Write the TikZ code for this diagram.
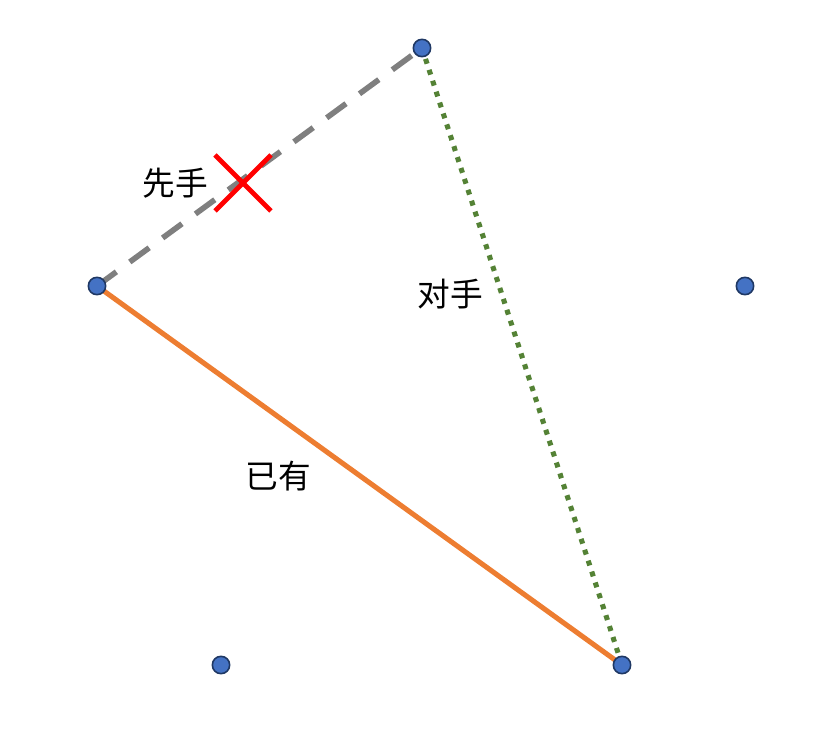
\documentclass[tikz,border=0pt]{standalone}
\usepackage{fontspec}
\newfontfamily\cjk{Noto Sans CJK SC}
\usetikzlibrary{positioning}
\definecolor{dotblue}{HTML}{4472C4}
\definecolor{dotline}{HTML}{1F3864}
\definecolor{lineorange}{HTML}{ED7D31}
\definecolor{linegreen}{HTML}{548235}
\definecolor{linegray}{HTML}{7F7F7F}
\tikzset{
    vertex/.style={circle,draw=dotline,fill=dotblue,line width=1.2pt,minimum size=13pt,inner sep=0pt},
    word/.style={font=\cjk\fontsize{24.5pt}{28pt}\selectfont,inner sep=0pt},
    owned/.style={-,line width=3.8pt,draw=lineorange},
    rival/.style={-,line width=3.8pt,draw=linegreen,dash pattern=on 3.8pt off 4.8pt},
    first/.style={-,line width=4.2pt,draw=linegray,dash pattern=on 18pt off 12.5pt},
    cross/.style={line width=3.6pt,draw=red}
}

\begin{document}
\begin{tikzpicture}[x=0.75pt,y=-0.75pt]
                    \useasboundingbox (0,0) rectangle (836,748);

                    \coordinate (top)   at (422,48);
                    \coordinate (left)  at (97,286);
                    \coordinate (right) at (745,286);
                    \coordinate (low 1) at (221,665);
                    \coordinate (low 2) at (622,665);
                    \coordinate (veto)  at (243,183);

                    \draw[owned] (left) -- (low 2);
                    \draw[rival] (top) -- (low 2);
                    \draw[first] (left) -- (top);

                    \draw[cross] (veto) ++(-28,-28) -- ++(56,56);
                    \draw[cross] (veto) ++(28,-28) -- ++(-56,56);

                    \node[vertex] (v top)   at (top)   {};
                    \node[vertex] (v left)  at (left)  {};
                    \node[vertex] (v right) at (right) {};
                    \node[vertex] (v low 1) at (low 1) {};
                    \node[vertex] (v low 2) at (low 2) {};

                    \node[word] (mine)   at (175,183) {先手};
                    \node[word] (theirs) at (450,294) {对手};
                    \node[word] (have)   at (278,476) {已有};
                \end{tikzpicture}
\end{document}
